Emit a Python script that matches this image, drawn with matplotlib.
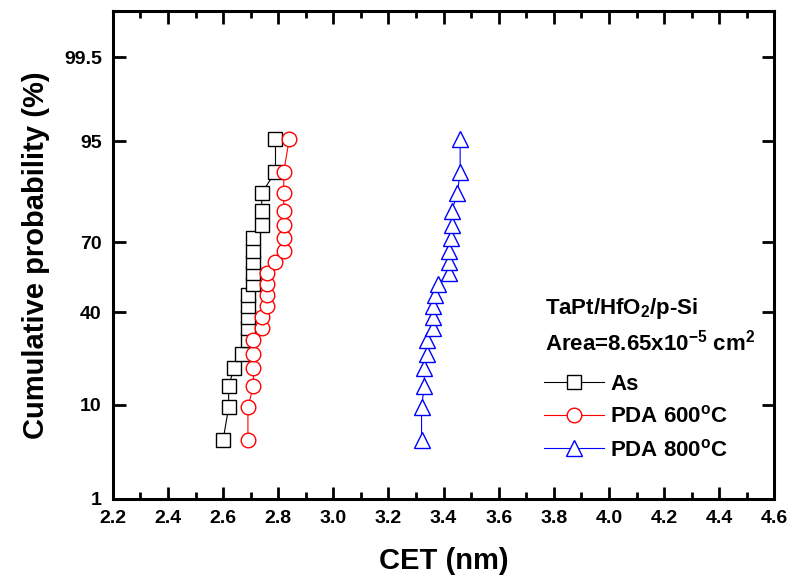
import math
import numpy as np
import matplotlib
matplotlib.use("Agg")
import matplotlib.pyplot as plt
from matplotlib.ticker import MultipleLocator, NullLocator, FormatStrFormatter

# CET values (nm), sorted; 20 devices per condition
cet_as = [2.60, 2.62, 2.62, 2.64, 2.67, 2.69, 2.69, 2.69, 2.69, 2.69,
          2.71, 2.71, 2.71, 2.71, 2.71, 2.74, 2.74, 2.74, 2.79, 2.79]
cet_600 = [2.69, 2.69, 2.71, 2.71, 2.71, 2.71, 2.74, 2.74, 2.76, 2.76,
           2.76, 2.76, 2.79, 2.82, 2.82, 2.82, 2.82, 2.82, 2.82, 2.84]
cet_800 = [3.32, 3.32, 3.33, 3.33, 3.34, 3.34, 3.36, 3.36, 3.36, 3.37,
           3.38, 3.42, 3.42, 3.42, 3.425, 3.43, 3.43, 3.45, 3.46, 3.46]

# cumulative probability (%) by mean rank i/(n+1)
n = len(cet_as)
prob = [100.0 * i / (n + 1) for i in range(1, n + 1)]

yticks = [1, 10, 40, 70, 95, 99.5]
yticklabels = ['1', '10', '40', '70', '95', '99.5']

_erf = np.vectorize(math.erf, otypes=[float])


def norm_cdf(z):
    return 0.5 * (1.0 + _erf(np.asarray(z, dtype=float) / math.sqrt(2.0)))


def probit(p):
    # inverse normal cdf of p (%), by bisection
    q = np.clip(np.asarray(p, dtype=float) / 100.0, 1e-12, 1 - 1e-12)
    lo = np.full(q.shape, -8.0)
    hi = np.full(q.shape, 8.0)
    for _ in range(60):
        mid = 0.5 * (lo + hi)
        low = norm_cdf(mid) < q
        lo = np.where(low, mid, lo)
        hi = np.where(low, hi, mid)
    return 0.5 * (lo + hi)


def inv_probit(z):
    return 100.0 * norm_cdf(z)


plt.rcParams['font.family'] = ['Liberation Sans', 'DejaVu Sans']
plt.rcParams['font.weight'] = 'bold'
plt.rcParams['mathtext.fontset'] = 'custom'
plt.rcParams['mathtext.rm'] = 'Liberation Sans:bold'
plt.rcParams['mathtext.it'] = 'Liberation Sans:bold'
plt.rcParams['mathtext.bf'] = 'Liberation Sans:bold'

fig = plt.figure(figsize=(7.95, 5.86), dpi=100)
ax = fig.add_axes([0.142, 0.1485, 0.832, 0.8325])

ax.set_yscale('function', functions=(probit, inv_probit))

ax.plot(cet_as, prob, '-', color='black', lw=0.8, marker='s', ms=10,
        mfc='white', mec='black', mew=1.0, label='As')
ax.plot(cet_600, prob, '-', color='red', lw=0.8, marker='o', ms=10.5,
        mfc='white', mec='red', mew=1.0, label='PDA 600$^\\mathregular{o}$C')
ax.plot(cet_800, prob, '-', color='blue', lw=0.8, marker='^', ms=12,
        mfc='white', mec='blue', mew=1.0, label='PDA 800$^\\mathregular{o}$C')

ax.set_xlim(2.2, 4.6)
ax.set_ylim(1, 99.9)
ax.xaxis.set_major_locator(MultipleLocator(0.2))
ax.xaxis.set_minor_locator(MultipleLocator(0.1))
ax.xaxis.set_major_formatter(FormatStrFormatter('%.1f'))
ax.set_yticks(yticks)
ax.set_yticklabels(yticklabels)
ax.yaxis.set_minor_locator(NullLocator())

ax.tick_params(which='both', direction='in', top=True, right=True,
               labelsize=14, width=2)
ax.tick_params(which='major', length=9, pad=8)
ax.tick_params(which='minor', length=5)
for s in ax.spines.values():
    s.set_linewidth(2.2)

ax.set_xlabel('CET (nm)', fontsize=21, fontweight='bold', labelpad=14)
ax.set_ylabel('Cumulative probability (%)', fontsize=21, fontweight='bold', labelpad=10)

ax.text(0.653, 0.391, 'TaPt/HfO$_\\mathregular{2}$/p-Si', transform=ax.transAxes,
        fontsize=16, fontweight='bold', va='center', ha='left')
ax.text(0.653, 0.320, 'Area=8.65x10$^{\\mathregular{-5}}$ cm$^\\mathregular{2}$',
        transform=ax.transAxes, fontsize=16, fontweight='bold', va='center', ha='left')

leg = ax.legend(loc='upper left', bbox_to_anchor=(0.638, 0.275), frameon=False,
                prop={'size': 16, 'weight': 'bold'}, handlelength=2.7,
                handletextpad=0.3, labelspacing=0.5, borderaxespad=0)

fig.savefig('out.png', dpi=100)
